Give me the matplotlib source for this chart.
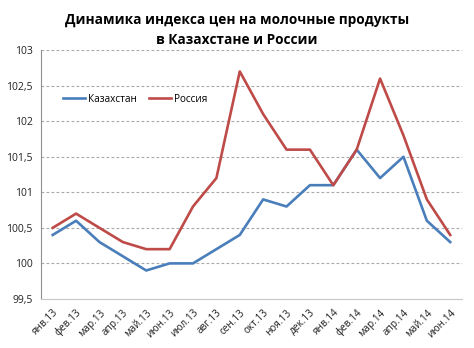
import numpy as np
import matplotlib
matplotlib.use("Agg")
import matplotlib.pyplot as plt
from matplotlib.ticker import FuncFormatter

plt.rcParams['font.family'] = ['Open Sans', 'DejaVu Sans']

months = ["янв.13", "фев.13", "мар.13", "апр.13", "май.13", "июн.13", "июл.13",
          "авг.13", "сен.13", "окт.13", "ноя.13", "дек.13", "янв.14", "фев.14",
          "мар.14", "апр.14", "май.14", "июн.14"]
kazakhstan = [100.4, 100.6, 100.3, 100.1, 99.9, 100.0, 100.0, 100.2, 100.4, 100.9,
              100.8, 101.1, 101.1, 101.6, 101.2, 101.5, 100.6, 100.3]
russia = [100.5, 100.7, 100.5, 100.3, 100.2, 100.2, 100.8, 101.2, 102.7, 102.1,
          101.6, 101.6, 101.1, 101.6, 102.6, 101.8, 100.9, 100.4]

fig = plt.figure(figsize=(4.74, 3.48), dpi=100)
ax = fig.add_axes([0.0865, 0.141, 0.888, 0.715])

x = np.arange(len(months))
ax.plot(x, kazakhstan, color='#4a7ebb', lw=1.9, label='Казахстан')
ax.plot(x, russia, color='#be4b48', lw=1.9, label='Россия')

ax.set_xlim(-0.5, len(months) - 0.5)
ax.set_ylim(99.5, 103)
ax.set_yticks(np.arange(99.5, 103.01, 0.5))
ax.yaxis.set_major_formatter(FuncFormatter(lambda v, p: f"{v:g}".replace('.', ',')))
ax.set_xticks(x)
ax.set_xticklabels(months, rotation=45, ha='right', rotation_mode='anchor',
                   fontsize=7.2, color='#222222')
ax.tick_params(axis='y', labelsize=7.5, length=0, pad=6, labelcolor='#222222')
ax.tick_params(axis='x', length=0, pad=6)

for v in np.arange(100, 103.01, 0.5):
    ax.axhline(v, color='#a8a8a8', lw=0.8, ls=(0, (2.5, 2)), zorder=0)

for s in ['top', 'right']:
    ax.spines[s].set_visible(False)
ax.spines['left'].set_color('#909090')
ax.spines['bottom'].set_color('#c8c8c8')

ax.legend(loc='upper left', bbox_to_anchor=(0.03, 0.86), ncol=2, frameon=False,
          fontsize=7.2, handlelength=2.2, handletextpad=0.3, columnspacing=1.2)

fig.text(0.5, 0.942, "Динамика индекса цен на молочные продукты", ha='center',
         va='center', fontsize=9.8, fontweight='bold')
fig.text(0.5, 0.884, "в Казахстане и России", ha='center', va='center',
         fontsize=9.8, fontweight='bold')

fig.savefig("out.png", dpi=100)
